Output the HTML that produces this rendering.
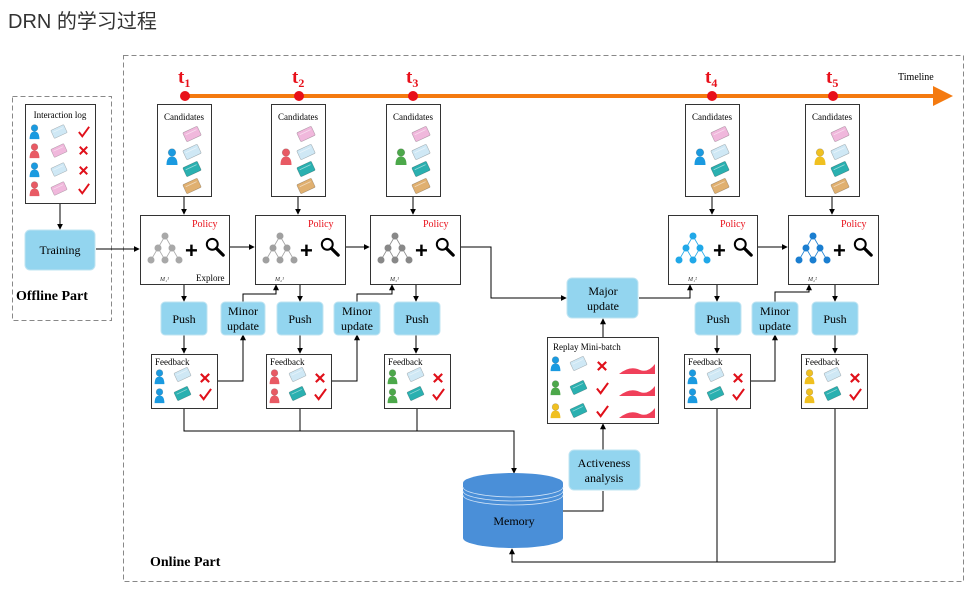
<!DOCTYPE html>
<html><head><meta charset="utf-8"><style>
body{margin:0;background:#fff;width:979px;height:603px;overflow:hidden}
svg{display:block;font-family:"Liberation Serif",serif}
.t{font-family:"Liberation Sans","Noto Sans CJK SC",sans-serif}
</style></head><body>
<svg width="979" height="603" viewBox="0 0 979 603" xmlns="http://www.w3.org/2000/svg">
<defs>
<marker id="a" viewBox="0 0 8 8" refX="7" refY="4" markerWidth="6" markerHeight="6" orient="auto"><path d="M0,0L8,4L0,8z" fill="#000"/></marker>
<symbol id="p" viewBox="0 0 12 18" overflow="visible"><circle cx="6" cy="4.5" r="3.8" fill="currentColor"/><path d="M0.5,17 Q0.5,8.5 6,8.5 Q11.5,8.5 11.5,17z" fill="currentColor"/><circle cx="6" cy="4.5" r="3.8" fill="none" stroke="#0003" stroke-width=".7"/></symbol>
<symbol id="c" viewBox="0 0 18 14" overflow="visible"><g transform="rotate(-25 9 7)"><rect x="1" y="2" width="16" height="10" rx="1" fill="currentColor" stroke="#0004" stroke-width=".6"/><line x1="3" y1="5" x2="15" y2="5" stroke="#fff8" stroke-width=".8"/></g></symbol>
<symbol id="tr" viewBox="0 0 40 36" overflow="visible"><g stroke="currentColor" stroke-width=".8" fill="none"><path d="M20,4L13,16L6,28M13,16L20,28M20,4L27,16L34,28M27,16L20,28"/></g><g fill="currentColor"><circle cx="20" cy="4" r="3.5"/><circle cx="13" cy="16" r="3.5"/><circle cx="27" cy="16" r="3.5"/><circle cx="6" cy="28" r="3.5"/><circle cx="20" cy="28" r="3.5"/><circle cx="34" cy="28" r="3.5"/></g></symbol>
<symbol id="mg" viewBox="0 0 22 22" overflow="visible"><circle cx="8" cy="8" r="6" fill="none" stroke="#000" stroke-width="2.2"/><line x1="12.5" y1="12.5" x2="20" y2="20" stroke="#000" stroke-width="3.5" stroke-linecap="round"/></symbol>
<symbol id="ck" viewBox="0 0 14 14" overflow="visible"><path d="M1,7 L5,12 L13,1" fill="none" stroke="#e0101a" stroke-width="2.2"/></symbol>
<symbol id="x" viewBox="0 0 12 12" overflow="visible"><path d="M1,1L11,11M11,1L1,11" stroke="#e0101a" stroke-width="2.6"/></symbol>
</defs>

<text x="8" y="28" class="t" font-size="20" fill="#333">DRN 的学习过程</text>

<rect x="123.5" y="55.5" width="840" height="526" fill="none" stroke="#888" stroke-dasharray="5,3"/>
<rect x="12.5" y="96.5" width="99" height="224" fill="none" stroke="#888" stroke-dasharray="5,3"/>

<!-- timeline -->
<line x1="185" y1="96" x2="938" y2="96" stroke="#f47a10" stroke-width="4"/>
<path d="M933,86L953,96L933,106z" fill="#f47a10"/>
<g fill="#e8101a"><circle cx="185" cy="96" r="5"/><circle cx="299" cy="96" r="5"/><circle cx="413" cy="96" r="5"/><circle cx="712" cy="96" r="5"/><circle cx="833" cy="96" r="5"/></g>
<g fill="#e8101a" font-weight="bold" font-size="19">
<text x="178" y="83">t<tspan font-size="12" dy="4">1</tspan></text>
<text x="292" y="83">t<tspan font-size="12" dy="4">2</tspan></text>
<text x="406" y="83">t<tspan font-size="12" dy="4">3</tspan></text>
<text x="705" y="83">t<tspan font-size="12" dy="4">4</tspan></text>
<text x="826" y="83">t<tspan font-size="12" dy="4">5</tspan></text>
</g>
<text x="898" y="80" font-size="10">Timeline</text>

<!-- offline -->
<rect x="25.5" y="104.5" width="70" height="99" fill="#fff" stroke="#333"/>
<text x="60" y="118" font-size="9" text-anchor="middle">Interaction log</text>
<use href="#p" x="29" y="124" width="11" height="16" color="#1a9ae0"/><use href="#c" x="51" y="125" width="16" height="13" color="#cfe8f5"/><use href="#ck" x="78" y="126" width="12" height="12"/>
<use href="#p" x="29" y="143" width="11" height="16" color="#e85a64"/><use href="#c" x="51" y="144" width="16" height="13" color="#f0b8dc"/><use href="#x" x="79" y="146" width="9" height="9"/>
<use href="#p" x="29" y="162" width="11" height="16" color="#1a9ae0"/><use href="#c" x="51" y="163" width="16" height="13" color="#cfe8f5"/><use href="#x" x="79" y="166" width="9" height="9"/>
<use href="#p" x="29" y="181" width="11" height="16" color="#e85a64"/><use href="#c" x="51" y="182" width="16" height="13" color="#f0b8dc"/><use href="#ck" x="78" y="183" width="12" height="12"/>
<line x1="60" y1="204" x2="60" y2="229" stroke="#000" marker-end="url(#a)"/>
<rect x="25" y="230" width="70" height="40" rx="5" fill="#93d5ef" stroke="#bfe4f2"/>
<text x="60" y="254" font-size="12" text-anchor="middle">Training</text>
<text x="16" y="300" font-size="14" font-weight="bold">Offline Part</text>
<text x="150" y="566" font-size="14" font-weight="bold">Online Part</text>

<!-- candidates -->
<g font-size="9" text-anchor="middle" fill="#000">
<rect x="157.5" y="104.5" width="54" height="92" fill="#fff" stroke="#333"/><text x="184" y="120">Candidates</text>
<rect x="271.5" y="104.5" width="54" height="92" fill="#fff" stroke="#333"/><text x="298" y="120">Candidates</text>
<rect x="386.5" y="104.5" width="54" height="92" fill="#fff" stroke="#333"/><text x="413" y="120">Candidates</text>
<rect x="685.5" y="104.5" width="54" height="92" fill="#fff" stroke="#333"/><text x="712" y="120">Candidates</text>
<rect x="805.5" y="104.5" width="54" height="92" fill="#fff" stroke="#333"/><text x="832" y="120">Candidates</text>
</g>
<g id="cd1">
<use href="#c" x="183" y="127" width="18" height="14" color="#f0b8dc"/>
<use href="#c" x="183" y="145" width="18" height="14" color="#cfe8f5"/>
<use href="#c" x="183" y="162" width="18" height="14" color="#2ab0b0"/>
<use href="#c" x="183" y="179" width="18" height="14" color="#e0b070"/>
</g>
<use href="#cd1" x="114"/><use href="#cd1" x="229"/><use href="#cd1" x="528"/><use href="#cd1" x="648"/>
<use href="#p" x="166" y="148" width="12" height="18" color="#1a9ae0"/>
<use href="#p" x="280" y="148" width="12" height="18" color="#e85a64"/>
<use href="#p" x="395" y="148" width="12" height="18" color="#4ca84a"/>
<use href="#p" x="694" y="148" width="12" height="18" color="#1a9ae0"/>
<use href="#p" x="814" y="148" width="12" height="18" color="#f0c020"/>
<g stroke="#000" fill="none">
<line x1="184" y1="197" x2="184" y2="214" marker-end="url(#a)"/>
<line x1="298" y1="197" x2="298" y2="214" marker-end="url(#a)"/>
<line x1="413" y1="197" x2="413" y2="214" marker-end="url(#a)"/>
<line x1="712" y1="197" x2="712" y2="214" marker-end="url(#a)"/>
<line x1="832" y1="197" x2="832" y2="214" marker-end="url(#a)"/>
</g>

<!-- policy boxes -->
<g fill="#fff" stroke="#333">
<rect x="140.5" y="215.5" width="89" height="69"/><rect x="255.5" y="215.5" width="90" height="69"/><rect x="370.5" y="215.5" width="90" height="69"/><rect x="668.5" y="215.5" width="89" height="69"/><rect x="788.5" y="215.5" width="90" height="69"/>
</g>
<g font-size="10" fill="#e8101a"><text x="192" y="227">Policy</text><text x="308" y="227">Policy</text><text x="423" y="227">Policy</text><text x="720" y="227">Policy</text><text x="841" y="227">Policy</text></g>
<use href="#tr" x="145" y="232" width="40" height="36" color="#a8a8a8"/>
<use href="#tr" x="260" y="232" width="40" height="36" color="#a0a0a0"/>
<use href="#tr" x="375" y="232" width="40" height="36" color="#888"/>
<use href="#tr" x="673" y="232" width="40" height="36" color="#20a8e8"/>
<use href="#tr" x="793" y="232" width="40" height="36" color="#1a7ed0"/>
<g font-size="22" font-weight="bold" font-family="Liberation Sans"><text x="185" y="258">+</text><text x="300" y="258">+</text><text x="415" y="258">+</text><text x="713" y="258">+</text><text x="833" y="258">+</text></g>
<use href="#mg" x="205" y="237" width="20" height="20"/><use href="#mg" x="320" y="237" width="20" height="20"/><use href="#mg" x="435" y="237" width="20" height="20"/><use href="#mg" x="733" y="237" width="20" height="20"/><use href="#mg" x="853" y="237" width="20" height="20"/>
<g font-size="6" font-style="italic" fill="#333"><text x="160" y="281">M₁¹</text><text x="275" y="281">M₂¹</text><text x="390" y="281">M₃¹</text><text x="688" y="281">M₁²</text><text x="808" y="281">M₂²</text></g>
<text x="196" y="281" font-size="9">Explore</text>

<g stroke="#000" fill="none">
<line x1="96" y1="249" x2="139" y2="249" marker-end="url(#a)"/>
<line x1="230" y1="247" x2="254" y2="247" marker-end="url(#a)"/>
<line x1="346" y1="247" x2="369" y2="247" marker-end="url(#a)"/>
<line x1="758" y1="247" x2="787" y2="247" marker-end="url(#a)"/>
<polyline points="461,247 491,247 491,298 566,298" marker-end="url(#a)"/>
<polyline points="639,298 690,298 690,285" marker-end="url(#a)"/>
<line x1="184" y1="285" x2="184" y2="301" marker-end="url(#a)"/>
<line x1="300" y1="285" x2="300" y2="301" marker-end="url(#a)"/>
<line x1="416" y1="285" x2="416" y2="301" marker-end="url(#a)"/>
<line x1="717" y1="285" x2="717" y2="301" marker-end="url(#a)"/>
<line x1="835" y1="285" x2="835" y2="301" marker-end="url(#a)"/>
<polyline points="243,302 243,294 276,294 276,285" marker-end="url(#a)"/>
<polyline points="357,302 357,294 392,294 392,285" marker-end="url(#a)"/>
<polyline points="775,302 775,292 809,292 809,285" marker-end="url(#a)"/>
<line x1="184" y1="335" x2="184" y2="353" marker-end="url(#a)"/>
<line x1="300" y1="335" x2="300" y2="353" marker-end="url(#a)"/>
<line x1="416" y1="335" x2="416" y2="353" marker-end="url(#a)"/>
<line x1="717" y1="335" x2="717" y2="353" marker-end="url(#a)"/>
<line x1="835" y1="335" x2="835" y2="353" marker-end="url(#a)"/>
<polyline points="218,381 243,381 243,335" marker-end="url(#a)"/>
<polyline points="332,381 357,381 357,335" marker-end="url(#a)"/>
<polyline points="751,381 775,381 775,335" marker-end="url(#a)"/>
<polyline points="184,409 184,431 514,431 514,473" marker-end="url(#a)"/>
<line x1="300" y1="409" x2="300" y2="431"/>
<line x1="417" y1="409" x2="417" y2="431"/>
<polyline points="717,409 717,562 512,562 512,549" marker-end="url(#a)"/>
<polyline points="835,409 835,562 717,562"/>
<polyline points="563,511 603,511 603,491"/>
<line x1="603" y1="450" x2="603" y2="424" marker-end="url(#a)"/>
<line x1="603" y1="337" x2="603" y2="319" marker-end="url(#a)"/>
</g>

<!-- blue boxes -->
<g fill="#93d5ef" stroke="#bfe4f2">
<rect x="161" y="302" width="46" height="33" rx="4"/><rect x="277" y="302" width="46" height="33" rx="4"/><rect x="394" y="302" width="46" height="33" rx="4"/><rect x="695" y="302" width="46" height="33" rx="4"/><rect x="812" y="302" width="46" height="33" rx="4"/>
<rect x="221" y="302" width="44" height="33" rx="4"/><rect x="334" y="302" width="46" height="33" rx="4"/><rect x="752" y="302" width="46" height="33" rx="4"/>
<rect x="567" y="278" width="71" height="40" rx="5"/><rect x="569" y="450" width="71" height="40" rx="5"/>
</g>
<g font-size="12" text-anchor="middle">
<text x="184" y="323">Push</text><text x="300" y="323">Push</text><text x="417" y="323">Push</text><text x="718" y="323">Push</text><text x="835" y="323">Push</text>
<text x="243" y="315">Minor</text><text x="243" y="330">update</text>
<text x="357" y="315">Minor</text><text x="357" y="330">update</text>
<text x="775" y="315">Minor</text><text x="775" y="330">update</text>
<text x="603" y="295">Major</text><text x="603" y="310">update</text>
<text x="604" y="467">Activeness</text><text x="604" y="482">analysis</text>
</g>

<!-- feedback -->
<g fill="#fff" stroke="#333">
<rect x="151.5" y="354.5" width="66" height="54"/><rect x="266.5" y="354.5" width="65" height="54"/><rect x="384.5" y="354.5" width="66" height="54"/><rect x="684.5" y="354.5" width="66" height="54"/><rect x="801.5" y="354.5" width="66" height="54"/>
</g>
<g font-size="9"><text x="155" y="365">Feedback</text><text x="270" y="365">Feedback</text><text x="388" y="365">Feedback</text><text x="688" y="365">Feedback</text><text x="805" y="365">Feedback</text></g>
<g id="fb">
<use href="#c" x="174" y="368" width="17" height="13" color="#cfe8f5"/>
<use href="#c" x="174" y="387" width="17" height="13" color="#2ab0b0"/>
<use href="#x" x="200" y="373" width="10" height="10"/>
<use href="#ck" x="199" y="388" width="13" height="13"/>
</g>
<use href="#fb" x="115"/><use href="#fb" x="233"/><use href="#fb" x="533"/><use href="#fb" x="650"/>
<g>
<use href="#p" x="154" y="369" width="11" height="16" color="#1a9ae0"/><use href="#p" x="154" y="388" width="11" height="16" color="#1a9ae0"/>
<use href="#p" x="269" y="369" width="11" height="16" color="#e85a64"/><use href="#p" x="269" y="388" width="11" height="16" color="#e85a64"/>
<use href="#p" x="387" y="369" width="11" height="16" color="#4ca84a"/><use href="#p" x="387" y="388" width="11" height="16" color="#4ca84a"/>
<use href="#p" x="687" y="369" width="11" height="16" color="#1a9ae0"/><use href="#p" x="687" y="388" width="11" height="16" color="#1a9ae0"/>
<use href="#p" x="804" y="369" width="11" height="16" color="#f0c020"/><use href="#p" x="804" y="388" width="11" height="16" color="#f0c020"/>
</g>

<!-- replay -->
<rect x="547.5" y="337.5" width="111" height="86" fill="#fff" stroke="#333"/>
<text x="553" y="350" font-size="9">Replay Mini-batch</text>
<use href="#p" x="550" y="356" width="11" height="16" color="#1a9ae0"/><use href="#c" x="570" y="357" width="17" height="13" color="#cfe8f5"/><use href="#x" x="597" y="361" width="10" height="10"/>
<use href="#p" x="550" y="380" width="11" height="16" color="#4ca84a"/><use href="#c" x="570" y="381" width="17" height="13" color="#2ab0b0"/><use href="#ck" x="596" y="382" width="13" height="13"/>
<use href="#p" x="550" y="403" width="11" height="16" color="#f0c020"/><use href="#c" x="570" y="404" width="17" height="13" color="#2ab0b0"/><use href="#ck" x="596" y="405" width="13" height="13"/>
<g fill="#f0405a">
<path d="M619,374 Q630,365 640,370 Q648,373 655,364 L655,374z"/>
<path d="M619,396 Q630,387 640,392 Q648,395 655,386 L655,396z"/>
<path d="M619,418 Q630,409 640,414 Q648,417 655,408 L655,418z"/>
</g>

<!-- memory -->
<path d="M463,483 L463,538 A50,10 0 0 0 563,538 L563,483z" fill="#4a8fd8"/>
<ellipse cx="513" cy="483" rx="50" ry="10" fill="#4a8fd8"/>
<g fill="none" stroke="#cfe2f6" stroke-width=".8">
<path d="M463,487 A50,10 0 0 0 563,487"/><path d="M463,491 A50,10 0 0 0 563,491"/><path d="M463,495 A50,10 0 0 0 563,495"/>
</g>
<text x="514" y="525" font-size="12" text-anchor="middle">Memory</text>
</svg>
</body></html>
